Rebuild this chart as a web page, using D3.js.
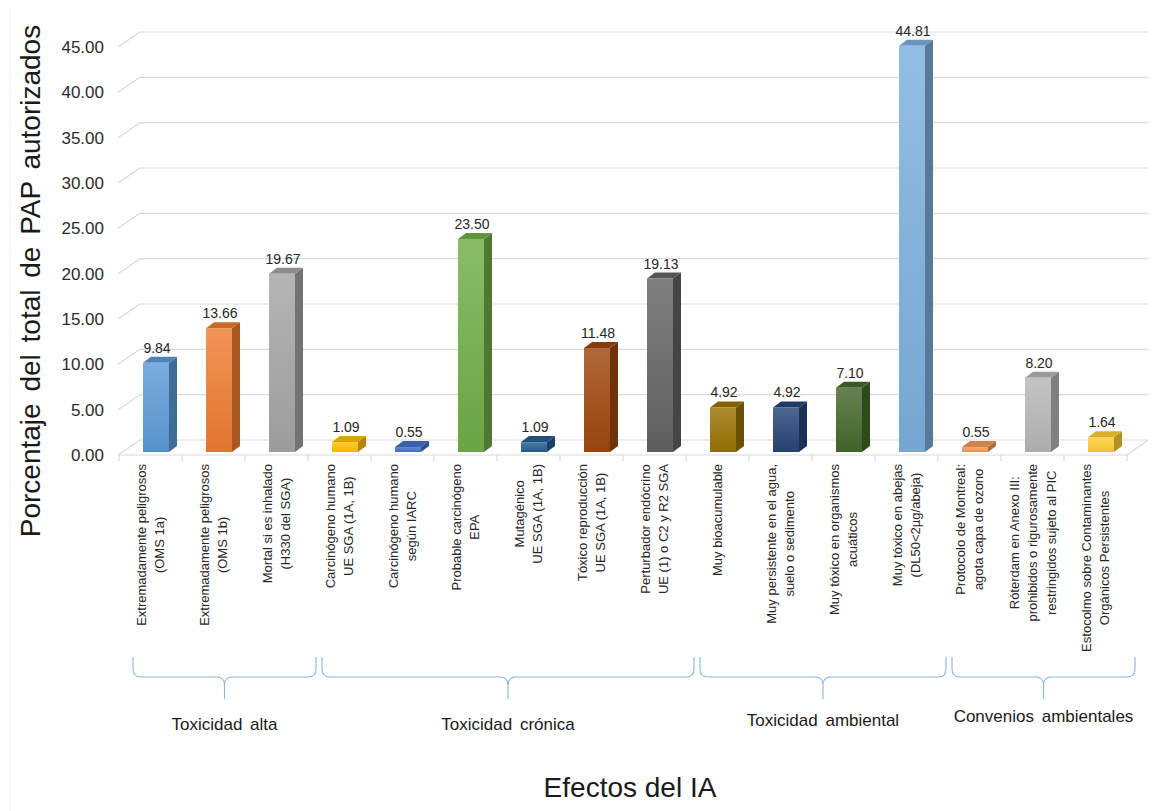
<!DOCTYPE html>
<html>
<head>
<meta charset="utf-8">
<script src="https://cdn.jsdelivr.net/npm/d3@7"></script>
<style>
  html, body { margin: 0; padding: 0; background: #ffffff; }
  svg { display: block; font-family: "Liberation Sans", Arial, sans-serif; }
</style>
</head>
<body>
<svg id="chart" width="1172" height="811"></svg>
<script>
// Categories (line breaks as drawn under the axis)
const categories = [
  "Extremadamente peligrosos\n(OMS 1a)",
  "Extremadamente peligrosos\n(OMS 1b)",
  "Mortal si es inhalado\n(H330 del SGA)",
  "Carcinógeno humano\nUE SGA (1A, 1B)",
  "Carcinógeno humano\nsegún IARC",
  "Probable carcinógeno\nEPA",
  "Mutagénico\nUE SGA (1A, 1B)",
  "Tóxico reproducción\nUE SGA (1A, 1B)",
  "Perturbador endócrino\nUE (1) o C2 y R2 SGA",
  "Muy bioacumulable",
  "Muy persistente en el agua,\nsuelo o sedimento",
  "Muy tóxico en organismos\nacuáticos",
  "Muy tóxico en abejas\n(DL50<2µg/abeja)",
  "Protocolo de Montreal:\nagota capa de ozono",
  "Róterdam en Anexo III:\nprohibidos o rigurosamente\nrestringidos sujeto al PIC",
  "Estocolmo sobre Contaminantes\nOrgánicos Persistentes"
];

// Percentage of authorised PAP for each effect
const values = [9.84, 13.66, 19.67, 1.09, 0.55, 23.50, 1.09, 11.48, 19.13,
                4.92, 4.92, 7.10, 44.81, 0.55, 8.20, 1.64];

// Bar colours
const barColors = ["#5B9BD5", "#ED7D31", "#A5A5A5", "#FFC000", "#4472C4", "#70AD47",
                   "#255E91", "#9E480E", "#636363", "#997300", "#264478", "#43682B",
                   "#7CAFDD", "#F1975A", "#B7B7B7", "#FFCD33"];

// Y axis ticks
const yTicks = [0, 5, 10, 15, 20, 25, 30, 35, 40, 45];

// Category groups under the axis
const groupNames = ["Toxicidad alta", "Toxicidad crónica", "Toxicidad ambiental", "Convenios ambientales"];
const groupFirst = [0, 3, 9, 13];
const groupLast  = [2, 8, 12, 15];

const yTitle = "Porcentaje del total de PAP autorizados";
const xTitle = "Efectos del IA";

// ---- geometry ----
const svg = d3.select("#chart");
const floorFrontY = 455;            // front edge of the floor (value 0, front plane)
const wallDx = 21, wallDy = -15;    // depth offset from front plane to back wall
const barBaseY = 452;               // bars stand slightly behind the front edge
const barDx = 8, barDy = -6;        // bar depth
const barOffset = 24, barWidth = 26;

const x = d3.scaleBand().domain(d3.range(categories.length)).range([119, 1127]).padding(0);
const h = d3.scaleLinear().domain([0, 45]).range([0, 408]);

const xLeft = x.range()[0], xRight = x.range()[1];

// faint outer frame on the left
svg.append("line").attr("x1", 10).attr("x2", 10).attr("y1", 8).attr("y2", 811)
  .attr("stroke", "#ececec").attr("stroke-width", 1);

// ---- back wall gridlines with perspective stubs ----
const grid = svg.append("g").attr("stroke", "#d9d9d9").attr("stroke-width", 1.2).attr("fill", "none");
yTicks.forEach(v => {
  const yb = floorFrontY + wallDy - h(v);
  const yf = floorFrontY - h(v);
  grid.append("line").attr("x1", xLeft + wallDx).attr("x2", xRight + wallDx)
    .attr("y1", yb).attr("y2", yb);
  grid.append("line").attr("x1", xLeft - 1).attr("y1", yf)
    .attr("x2", xLeft + wallDx).attr("y2", yb);
});
// floor front edge and right side
grid.append("line").attr("x1", xLeft - 1).attr("x2", xRight).attr("y1", floorFrontY).attr("y2", floorFrontY);
grid.append("line").attr("x1", xRight).attr("y1", floorFrontY)
  .attr("x2", xRight + wallDx).attr("y2", floorFrontY + wallDy);

// category tick marks
svg.append("g").selectAll("line").data(d3.range(categories.length + 1)).join("line")
  .attr("x1", i => xLeft + i * x.bandwidth()).attr("x2", i => xLeft + i * x.bandwidth())
  .attr("y1", floorFrontY).attr("y2", floorFrontY + 6)
  .attr("stroke", "#d0d0d0").attr("stroke-width", 1);

// y tick labels
svg.append("g").selectAll("text").data(yTicks).join("text")
  .attr("x", 104).attr("y", v => floorFrontY - h(v))
  .attr("dy", "0.35em").attr("text-anchor", "end")
  .attr("font-size", 17).attr("fill", "#2b2b2b")
  .text(v => v.toFixed(2));

// ---- bars ----
const defs = svg.append("defs");
barColors.forEach((c, i) => {
  const g = defs.append("linearGradient").attr("id", "grad" + i)
    .attr("x1", 0).attr("y1", 0).attr("x2", 0).attr("y2", 1);
  g.append("stop").attr("offset", "0%").attr("stop-color", d3.interpolateRgb(c, "#ffffff")(0.18));
  g.append("stop").attr("offset", "100%").attr("stop-color", d3.color(c).darker(0.15).formatHex());
});

const bars = svg.append("g").selectAll("g").data(values).join("g");
bars.each(function(v, i) {
  const g = d3.select(this);
  const x0 = x(i) + barOffset, x1 = x0 + barWidth;
  const yTop = barBaseY - h(v), yBot = barBaseY;
  const c = d3.color(barColors[i]);
  // side face
  g.append("path")
    .attr("d", `M${x1},${yBot} L${x1 + barDx},${yBot + barDy} L${x1 + barDx},${yTop + barDy} L${x1},${yTop} Z`)
    .attr("fill", c.darker(1.0).formatHex());
  // top face
  g.append("path")
    .attr("d", `M${x0},${yTop} L${x0 + barDx},${yTop + barDy} L${x1 + barDx},${yTop + barDy} L${x1},${yTop} Z`)
    .attr("fill", c.darker(0.45).formatHex());
  // front face
  g.append("rect").attr("x", x0).attr("y", yTop).attr("width", barWidth).attr("height", yBot - yTop)
    .attr("fill", `url(#grad${i})`);
  // value label
  g.append("text").attr("x", x0 + barWidth / 2 + 1).attr("y", yTop + barDy - 4)
    .attr("text-anchor", "middle").attr("font-size", 14).attr("fill", "#262626")
    .text(v.toFixed(2));
});

// ---- rotated category labels ----
const lineGap = 18.5;
const labelTop = 464;
svg.append("g").selectAll("g").data(categories).join("g")
  .attr("transform", (d, i) => `translate(${x(i) + x.bandwidth() / 2},${labelTop}) rotate(-90)`)
  .each(function(d) {
    const g = d3.select(this);
    const lines = d.split("\n");
    const n = lines.length;
    const texts = lines.map((ln, k) => g.append("text")
      .attr("font-size", 13).attr("fill", "#262626")
      .attr("text-anchor", "middle")
      .attr("dy", "0.35em")
      .attr("y", (k - (n - 1) / 2) * lineGap)
      .text(ln));
    const maxW = d3.max(texts, t => t.node().getComputedTextLength());
    texts.forEach(t => t.attr("x", -maxW / 2));
  });

// ---- group braces ----
const braceColor = "#8db3de";
const braceTop = 657, braceLine = 677, braceTip = 699;
const braces = svg.append("g").attr("fill", "none").attr("stroke", braceColor).attr("stroke-width", 1.1);
groupNames.forEach((name, gi) => {
  const xa = x(groupFirst[gi]) + 14;
  const xb = x(groupLast[gi]) + x.bandwidth() + 8;
  const xm = (xa + xb) / 2;
  const r = 8;
  braces.append("path").attr("d",
    `M${xa},${braceTop} L${xa},${braceLine - r} Q${xa},${braceLine} ${xa + r},${braceLine}` +
    ` L${xm - r},${braceLine} Q${xm},${braceLine} ${xm},${braceLine + r} L${xm},${braceTip}` +
    ` M${xm},${braceLine + r} Q${xm},${braceLine} ${xm + r},${braceLine}` +
    ` L${xb - r},${braceLine} Q${xb},${braceLine} ${xb},${braceLine - r} L${xb},${braceTop}`);
  svg.append("text").attr("x", xm).attr("y", 724 - Math.max(0, gi - 1) * 4).attr("dy", "0.35em")
    .attr("text-anchor", "middle").attr("font-size", 17).attr("fill", "#1a1a1a")
    .attr("word-spacing", 3)
    .text(name);
});

// ---- axis titles ----
svg.append("text").attr("x", 630).attr("y", 787).attr("dy", "0.35em")
  .attr("text-anchor", "middle").attr("font-size", 28).attr("fill", "#1a1a1a")
  .text(xTitle);

svg.append("text").attr("transform", "translate(30,281) rotate(-90)")
  .attr("dy", "0.35em").attr("text-anchor", "middle")
  .attr("font-size", 28).attr("fill", "#1a1a1a").attr("word-spacing", 4)
  .text(yTitle);
</script>
</body>
</html>
